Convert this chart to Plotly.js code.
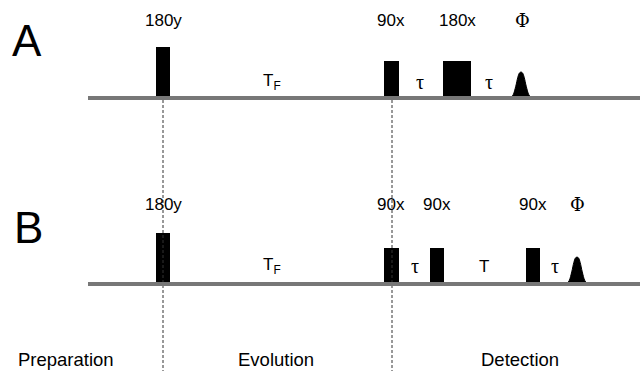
<!DOCTYPE html>
<html><head><meta charset="utf-8">
<script src="https://cdn.plot.ly/plotly-3.0.1.min.js"></script>
<style>html,body{margin:0;padding:0;background:#fff}#chart{width:640px;height:371px}</style>
</head><body><div id="chart"></div>
<script>
// Row baselines (diagram units, y grows downward like the figure)
const baselineY = [98, 284];
const baselineStart = 88;
const baselineEnd = 640;

// Rectangular pulses, row A
const pulsesA_x0 = [156, 384, 443];
const pulsesA_x1 = [170, 399, 471];
const pulsesA_h  = [51, 37, 37];
// Rectangular pulses, row B
const pulsesB_x0 = [156, 384, 430, 526];
const pulsesB_x1 = [170, 399, 444, 540];
const pulsesB_h  = [51, 36, 36, 36];

// Shaped (detection) pulse
const shapedCenter = [521, 577];
const shapedHalfWidth = [10.5, 10.5];
const shapedHeight = [26, 27];
const shapeProfileX = [-1, -0.75, -0.5, -0.3, -0.15, 0, 0.15, 0.3, 0.5, 0.75, 1];
const shapeProfileY = [0, 0.12, 0.45, 0.8, 0.96, 1, 0.96, 0.8, 0.45, 0.12, 0];

// Pulse labels
const labelsA = ["180y", "90x", "180x", "Φ"];
const labelsA_x = [163, 391, 457, 522];
const labelsB = ["180y", "90x", "90x", "90x", "Φ"];
const labelsB_x = [163, 391, 437, 533, 577];
const labelRowY = [20, 204];

// Delay labels
const delaysA = ["T<sub>F</sub>", "τ", "τ"];
const delaysA_x = [272, 420, 489];
const delaysB = ["T<sub>F</sub>", "τ", "T", "τ"];
const delaysB_x = [272, 415, 484, 555];
const delayRowY = [82, 266];

// Row letters
const rowLetters = ["A", "B"];
const rowLetterX = [27, 28];
const rowLetterY = [40, 227];

// Periods
const periods = ["Preparation", "Evolution", "Detection"];
const periods_x = [66, 276, 520];
const periodsY = 359;
const dividers_x = [163, 392];
const dividerTop = 100;
const dividerBottom = 371;

const traces = [];
function addBars(x0, x1, h, base) {
  traces.push({
    type: 'bar',
    x: x0.map((a, i) => (a + x1[i]) / 2),
    width: x0.map((a, i) => x1[i] - a),
    y: h.map(v => -v),
    base: x0.map(() => base),
    marker: {color: '#000', line: {width: 0}},
    hoverinfo: 'skip', showlegend: false
  });
}
addBars(pulsesA_x0, pulsesA_x1, pulsesA_h, baselineY[0]);
addBars(pulsesB_x0, pulsesB_x1, pulsesB_h, baselineY[1]);

shapedCenter.forEach((c, i) => {
  traces.push({
    type: 'scatter', mode: 'lines', fill: 'toself', fillcolor: '#000',
    x: shapeProfileX.map(p => c + p * shapedHalfWidth[i]),
    y: shapeProfileY.map(p => baselineY[i] - p * shapedHeight[i]),
    line: {color: '#000', width: 1, shape: 'spline'},
    hoverinfo: 'skip', showlegend: false
  });
});

dividers_x.forEach(x => {
  traces.push({
    type: 'scatter', mode: 'lines', x: [x, x], y: [dividerTop, dividerBottom],
    line: {color: '#333', width: 1, dash: '3px,2px'},
    hoverinfo: 'skip', showlegend: false
  });
});

baselineY.forEach(y => {
  traces.push({
    type: 'scatter', mode: 'lines', x: [baselineStart, baselineEnd], y: [y, y],
    line: {color: '#777', width: 4},
    hoverinfo: 'skip', showlegend: false
  });
});

const ann = [];
const sans = 'Liberation Sans, Arial, sans-serif';
function txt(x, y, t, size, family) {
  ann.push({x: x, y: y, xref: 'x', yref: 'y', text: t, showarrow: false,
    font: {family: family || sans, size: size, color: '#000'}, xanchor: 'center', yanchor: 'middle'});
}
labelsA.forEach((t, i) => txt(labelsA_x[i], labelRowY[0], t, t === 'Φ' ? 18 : 17, t === 'Φ' ? 'DejaVu Serif' : sans));
labelsB.forEach((t, i) => txt(labelsB_x[i], labelRowY[1], t, t === 'Φ' ? 18 : 17, t === 'Φ' ? 'DejaVu Serif' : sans));
delaysA.forEach((t, i) => txt(delaysA_x[i], delayRowY[0], t, t === 'τ' ? 20 : 17, t === 'τ' ? 'Liberation Serif' : sans));
delaysB.forEach((t, i) => txt(delaysB_x[i], delayRowY[1], t, t === 'τ' ? 20 : 17, t === 'τ' ? 'Liberation Serif' : sans));
rowLetters.forEach((t, i) => txt(rowLetterX[i], rowLetterY[i], t, 44));
periods.forEach((t, i) => txt(periods_x[i], periodsY, t, 18.5));

Plotly.newPlot('chart', traces, {
  width: 640, height: 371,
  margin: {l: 0, r: 0, t: 0, b: 0},
  paper_bgcolor: '#fff', plot_bgcolor: '#fff',
  barmode: 'overlay', bargap: 0,
  xaxis: {range: [0, 640], visible: false, fixedrange: true},
  yaxis: {range: [371, 0], visible: false, fixedrange: true},
  annotations: ann, showlegend: false
}, {staticPlot: true});
</script></body></html>
